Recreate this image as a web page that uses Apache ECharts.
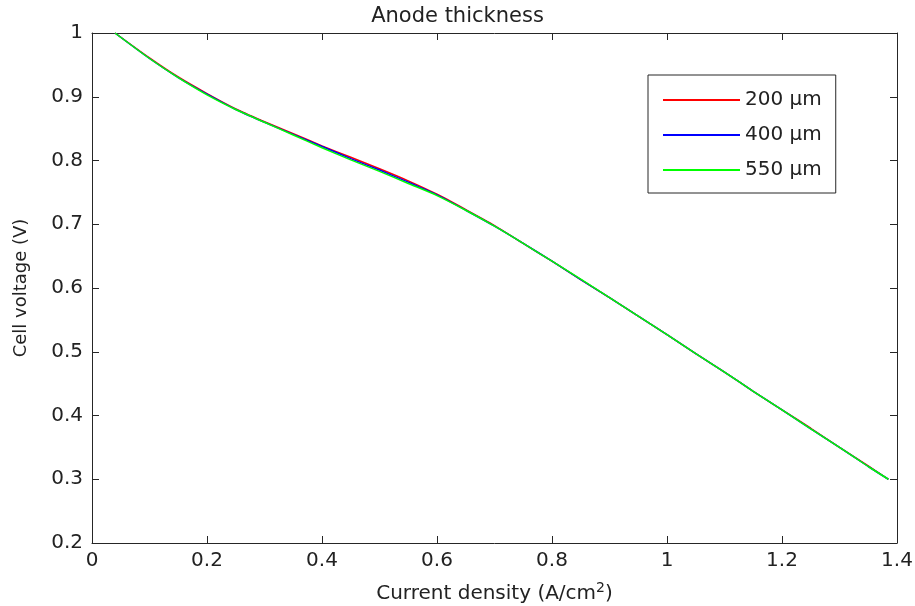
<!DOCTYPE html>
<html>
<head>
<meta charset="utf-8">
<script src="https://cdn.jsdelivr.net/npm/echarts@6/dist/echarts.min.js"></script>
<style>html,body{margin:0;padding:0;background:#fff;}#c{width:915px;height:606px;}</style>
</head>
<body>
<div id="c"></div>
<script>
const title = 'Anode thickness';
const seriesNames = ['200 μm', '400 μm', '550 μm'];
const currentDensity = [0.04,0.1,0.15,0.2,0.25,0.3,0.35,0.4,0.45,0.5,0.55,0.6,0.65,0.7,0.75,0.8,0.85,0.9,0.95,1.0,1.05,1.1,1.15,1.2,1.25,1.3,1.35,1.385];
const v200 = [1.0,0.961,0.931,0.905,0.881,0.861,0.842,0.823,0.805,0.787,0.768,0.747,0.723,0.698,0.670,0.642,0.613,0.585,0.556,0.527,0.497,0.468,0.438,0.409,0.380,0.350,0.321,0.300];
const v400 = [1.0,0.960,0.930,0.904,0.880,0.860,0.841,0.822,0.803,0.785,0.766,0.746,0.722,0.697,0.670,0.642,0.613,0.585,0.556,0.527,0.497,0.468,0.438,0.409,0.379,0.350,0.320,0.300];
const v550 = [1.0,0.960,0.930,0.903,0.880,0.860,0.840,0.820,0.801,0.783,0.764,0.745,0.722,0.697,0.670,0.642,0.614,0.585,0.556,0.527,0.497,0.468,0.438,0.409,0.379,0.350,0.320,0.300];
const colors = ['#ff0000', '#0000ff', '#00ff00'];

const FONT = 'DejaVu Sans';
const AX = '#262626';
const pair = (ys) => currentDensity.map((x, i) => [x, ys[i]]);
const baseX = {type:'value', min:0, max:1.4, interval:0.2};
const baseY = {type:'value', min:0.2, max:1.0, interval:0.1};
const axLine = {show:true, onZero:false, lineStyle:{color:AX, width:1}};
const axTick = {show:true, inside:true, length:7, lineStyle:{color:AX, width:1}};

const chart = echarts.init(document.getElementById('c'));
chart.setOption({
  animation:false,
  backgroundColor:'#fff',
  title:{text:title, left:'center', top:1, textStyle:{fontFamily:FONT, fontSize:21, fontWeight:'normal', color:'#222'}},
  grid:{left:92, right:18, top:33, bottom:63, containLabel:false, outerBoundsMode:'none'},
  legend:{
    data:seriesNames, orient:'vertical', left:648, top:75,
    icon:'rect', itemWidth:77, itemHeight:2, itemGap:15,
    padding:[15,14,13,15],
    borderColor:AX, borderWidth:1, backgroundColor:'#fff',
    textStyle:{fontFamily:FONT, fontSize:20, color:'#222', lineHeight:14}
  },
  xAxis:[
    Object.assign({}, baseX, {
      position:'bottom', axisLine:axLine, axisTick:axTick, splitLine:{show:false},
      axisLabel:{fontFamily:FONT, fontSize:20, color:'#222', margin:8, formatter:(v)=>String(Math.round(v*10)/10)},
      name:'Current density (A/cm{sup|2})', nameLocation:'middle', nameGap:38,
      nameTextStyle:{fontFamily:FONT, fontSize:20, color:'#222', rich:{sup:{fontFamily:FONT, fontSize:14, color:'#222', verticalAlign:'top', padding:[0,0,12,0]}}}
    }),
    Object.assign({}, baseX, {position:'top', axisLine:axLine, axisTick:axTick, axisLabel:{show:false}, splitLine:{show:false}})
  ],
  yAxis:[
    Object.assign({}, baseY, {
      position:'left', axisLine:axLine, axisTick:axTick, splitLine:{show:false},
      axisLabel:{fontFamily:FONT, fontSize:20, color:'#222', margin:9, formatter:(v)=>String(Math.round(v*10)/10)},
      name:'Cell voltage (V)', nameLocation:'middle', nameGap:62,
      nameTextStyle:{fontFamily:FONT, fontSize:18, color:'#222'}
    }),
    Object.assign({}, baseY, {position:'right', axisLine:axLine, axisTick:axTick, axisLabel:{show:false}, splitLine:{show:false}})
  ],
  series:[v200, v400, v550].map((ys, i) => ({
    name:seriesNames[i], type:'line', data:pair(ys), smooth:0.25,
    showSymbol:false, symbol:'none', color:colors[i],
    itemStyle:{color:colors[i]},
    lineStyle:{color:colors[i], width:1.5}, xAxisIndex:0, yAxisIndex:0
  }))
});
</script>
</body>
</html>
